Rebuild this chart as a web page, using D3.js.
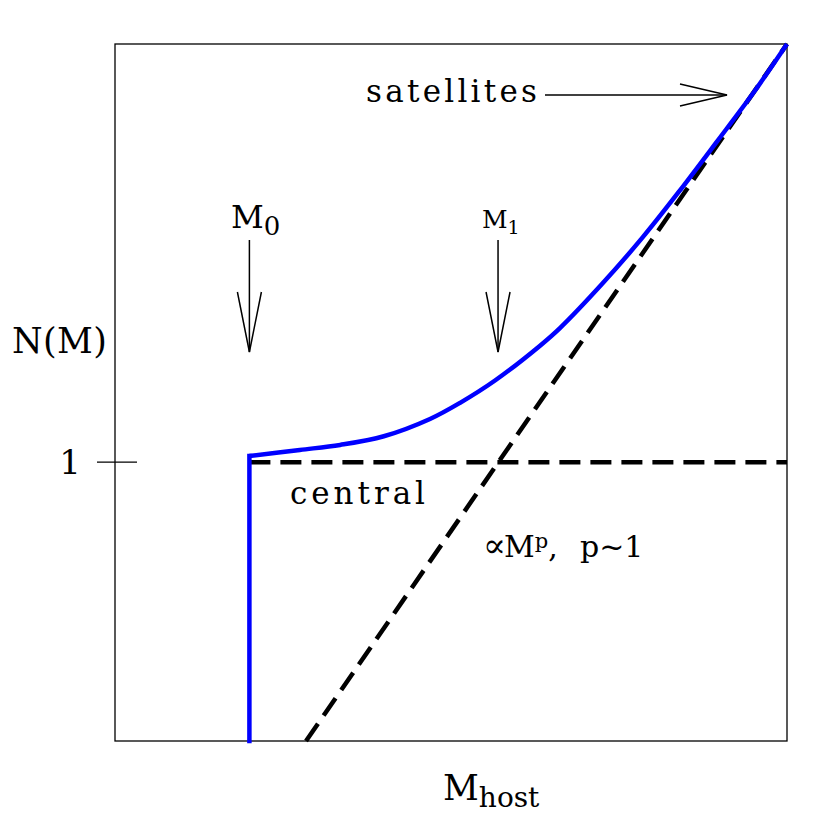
<!DOCTYPE html>
<html><head><meta charset="utf-8">
<script src="https://cdn.jsdelivr.net/npm/d3@7"></script>
<style>body{margin:0;background:#fff}text{font-family:"DejaVu Serif",serif;fill:#000}</style>
</head><body>
<svg id="c" width="830" height="830"></svg>
<script>
// log10 host mass (arbitrary units) and log10 N
const xDomain = [11, 15];
const yDomain = [-1, 1.5];
const logM0 = 11.8;
const logM1 = 13.28;
const blueX = [11.8, 11.8, 12.1, 12.34, 12.6, 12.875, 13.054, 13.262, 13.53, 13.65, 13.9, 14.143, 14.363, 14.583, 14.8, 15.0];
const blueY = [-1, 0.022, 0.044, 0.062, 0.093, 0.155, 0.213, 0.293, 0.418, 0.482, 0.64, 0.808, 0.975, 1.15, 1.325, 1.5];
const centralX = [11.8, 15];
const centralY = [0, 0];
const satX = [12.137, 15];
const satY = [-1, 1.5];
const yTicks = [0];
const yTickLabels = ["1"];

const svg = d3.select("#c");
const x = d3.scaleLinear().domain(xDomain).range([115, 787]);
const y = d3.scaleLinear().domain(yDomain).range([741, 44]);

svg.append("rect").attr("x",115).attr("y",44).attr("width",672).attr("height",697)
  .attr("fill","none").attr("stroke","#000").attr("stroke-width",1.3);

const line = d3.line().x(d=>x(d[0])).y(d=>y(d[1]));
svg.append("path").datum(centralX.map((v,i)=>[v,centralY[i]])).attr("d",line)
  .attr("fill","none").attr("stroke","#000").attr("stroke-width",4.5).attr("stroke-dasharray","21,10");
svg.append("path").datum(satX.map((v,i)=>[v,satY[i]])).attr("d",line)
  .attr("fill","none").attr("stroke","#000").attr("stroke-width",4.5).attr("stroke-dasharray","21,10");
const blue = blueX.map((v,i)=>[v,blueY[i]]);
svg.append("path").datum(blue.slice(0,2)).attr("d",line)
  .attr("fill","none").attr("stroke","#0000ff").attr("stroke-width",4.5).attr("stroke-linecap","square");
svg.append("path").datum(blue.slice(1)).attr("d",d3.line().x(d=>x(d[0])).y(d=>y(d[1])).curve(d3.curveCatmullRom.alpha(0.5)))
  .attr("fill","none").attr("stroke","#0000ff").attr("stroke-width",4.5).attr("stroke-linejoin","round");

// y tick
yTicks.forEach((t,i)=>{
  svg.append("line").attr("x1",97).attr("x2",137).attr("y1",y(t)).attr("y2",y(t)).attr("stroke","#000").attr("stroke-width",1.3);
  svg.append("text").attr("x",81).attr("y",y(t)+12).attr("text-anchor","end").attr("font-size",34).text(yTickLabels[i]);
});

// arrows
function arrowDown(px, y1, y2){
  svg.append("line").attr("x1",px).attr("x2",px).attr("y1",y1).attr("y2",y2).attr("stroke","#000").attr("stroke-width",1.5);
  svg.append("path").attr("d",`M${px-12},${y2-60} L${px},${y2} L${px+12},${y2-60}`).attr("fill","none").attr("stroke","#000").attr("stroke-width",1.5);
}
arrowDown(x(logM0), 240, 352);
arrowDown(x(logM1), 240, 352);
svg.append("line").attr("x1",545).attr("x2",727).attr("y1",95).attr("y2",95).attr("stroke","#000").attr("stroke-width",1.5);
svg.append("path").attr("d","M680,84 L727,95 L680,106").attr("fill","none").attr("stroke","#000").attr("stroke-width",1.5);

// labels
const t0 = svg.append("text").attr("x",231).attr("y",228).attr("font-size",32);
t0.append("tspan").text("M");
t0.append("tspan").attr("font-size",26).attr("dy",7).text("0");
const t1 = svg.append("text").attr("x",482).attr("y",228).attr("font-size",25);
t1.append("tspan").text("M");
t1.append("tspan").attr("font-size",19).attr("dy",6).text("1");
svg.append("text").attr("x",366).attr("y",102).attr("font-size",31).attr("textLength",171).text("satellites");
svg.append("text").attr("x",12).attr("y",353).attr("font-size",35).attr("textLength",95).text("N(M)");
svg.append("text").attr("x",290).attr("y",504).attr("font-size",31).attr("textLength",135).text("central");
const tp = svg.append("text").attr("y",557).attr("font-size",30);
tp.append("tspan").attr("x",483).attr("font-size",34).attr("dy",0).text("∝");
tp.append("tspan").attr("x",504).text("M");
tp.append("tspan").attr("font-size",21).attr("dy",-9).text("p");
tp.append("tspan").attr("dy",9).text(",");
tp.append("tspan").attr("x",580).text("p~1");
const th = svg.append("text").attr("x",443).attr("y",800).attr("font-size",35);
th.append("tspan").text("M");
th.append("tspan").attr("font-size",28).attr("dy",7).text("host");
</script>
</body></html>
